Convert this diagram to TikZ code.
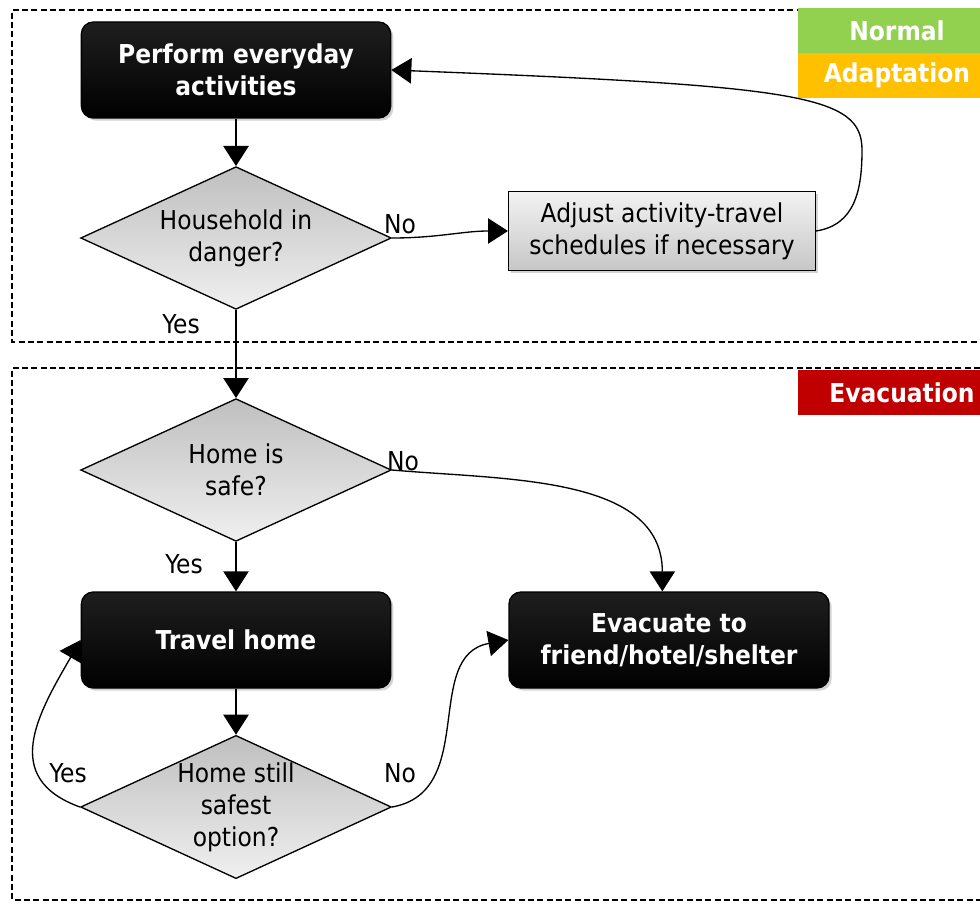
\documentclass[tikz,border=0pt]{standalone}
\usepackage{fontspec}
\setmainfont{DejaVu Sans Condensed}
\usepackage{tikz}
\usetikzlibrary{shapes.geometric,arrows.meta,shadows}
\definecolor{phasegreen}{HTML}{92D050}
\definecolor{phaseorange}{HTML}{FFC000}
\definecolor{phasered}{HTML}{C00000}

\begin{document}
\begin{tikzpicture}[x=0.75pt,y=-0.75pt,line width=1pt,
    txt/.style={font=\fontsize{19.5}{24}\selectfont},
    darkbox/.style={draw=black,rounded corners=9pt,top color=black!88,bottom color=black,
      text=white,align=center,font=\bfseries\fontsize{19.5}{24}\selectfont,
      minimum width=232pt,minimum height=72pt,
      drop shadow={opacity=0.35,shadow xshift=2pt,shadow yshift=-2pt}},
    greybox/.style={draw=black,top color=black!5,bottom color=black!22,align=center,
      txt,minimum width=230pt,minimum height=59pt,
      drop shadow={opacity=0.35,shadow xshift=2pt,shadow yshift=-2pt}},
    decision/.style={diamond,draw=black,top color=black!25,bottom color=black!6,
      align=center,txt,aspect=2.17,inner sep=0pt,minimum width=233pt,minimum height=107pt},
    phase/.style={text=white,font=\bfseries\fontsize{19.5}{24}\selectfont,inner sep=0pt},
    frame/.style={line width=0.8pt,dash pattern=on 4.5pt off 2.5pt},
    flow/.style={-{Triangle[width=19pt,length=15pt]}}]

    \useasboundingbox (0,0) rectangle (980,902);

    % phase frames
    \draw[frame] (980,10)--(12,10)--(12,342)--(980,342);
    \draw[frame] (980,368)--(12,368)--(12,900)--(980,900);

    % phase labels
    \fill[phasegreen] (798,8) rectangle (980,53);
    \fill[phaseorange] (798,53) rectangle (980,98);
    \fill[phasered] (798,370) rectangle (980,415);
    \node[phase] (normal) at (897,30.5) {Normal};
    \node[phase] (adapt) at (897,75.5) {Adaptation};
    \node[phase] (evacphase) at (902,392.5) {Evacuation};

    % steps
    \node[darkbox] (perform) at (236,70) {Perform everyday\\activities};
    \node[decision] (danger) at (236,238) {Household in\\danger?};
    \node[greybox] (adjust) at (662,231) {Adjust activity-travel\\schedules if necessary};
    \node[decision] (safe) at (236,470) {Home is\\safe?};
    \node[darkbox] (travel) at (236,640) {Travel home};
    \node[darkbox,minimum width=240pt] (evac) at (669,640) {Evacuate to\\friend/hotel/shelter};
    \node[decision] (still) at (236,807) {Home still\\safest\\option?};

    % connectors
    \draw[flow] (perform)--(danger);
    \draw[flow] (danger.east) to[out=0,in=180] (adjust.west);
    \draw[flow] (adjust.east) .. controls (855,225) and (862,190) .. (862,150)
      .. controls (862,95) and (800,86) .. (perform.east);
    \draw[flow] (danger)--(safe);
    \draw[flow] (safe.east) to[out=-5,in=90] ([xshift=-5pt]evac.north);
    \draw[flow] (safe)--(travel);
    \draw[flow] (travel)--(still);
    \draw[flow] (still.west) to[out=160,in=240,looseness=1.3] (travel.west);
    \draw[flow] (still.east) to[out=10,in=190,looseness=1.1] (evac.west);

    % yes / no labels
    \node[txt] (no1) at (400,224) {No};
    \node[txt] (yes1) at (181,324) {Yes};
    \node[txt] (no2) at (403,461) {No};
    \node[txt] (yes2) at (184,564) {Yes};
    \node[txt] (yes3) at (68,773) {Yes};
    \node[txt] (no3) at (400,773) {No};

\end{tikzpicture}
\end{document}
